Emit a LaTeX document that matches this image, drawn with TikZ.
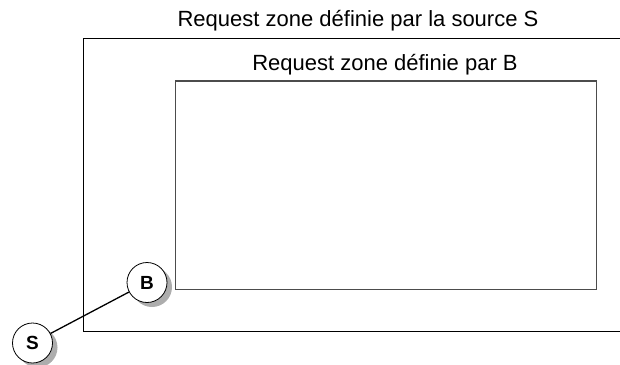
\documentclass[tikz,border=0pt]{standalone}
\usepackage{fontspec}
\setmainfont{Liberation Sans}
\usepackage{tikz}
\usetikzlibrary{positioning,shadows}

\newcommand{\stationfont}{\fontsize{19}{22}\selectfont\bfseries}

\begin{document}
\begin{tikzpicture}[
    x=1pt, y=-1pt,
    zonelabel/.style={
        anchor=base,
        inner sep=0pt,
        font=\fontsize{22}{26}\selectfont
    },
    zone/.style={
        rectangle,
        draw=black!70,
        line width=1.1pt,
        inner sep=0pt,
        minimum width=421pt,
        minimum height=208.5pt
    },
    station/.style={
        circle,
        draw,
        fill=white,
        line width=0.8pt,
        minimum size=40pt,
        inner sep=0pt,
        drop shadow={shadow xshift=5pt, shadow yshift=-4.5pt, fill=black!32, opacity=1}
    }
]
\useasboundingbox (0,0) rectangle (620,364);

% Outer zone (source S)
\draw[line width=0.9pt] (620,38.5) -- (83,38.5) -- (83,331.5) -- (620,331.5);
\node[zonelabel] (labelS) at (358,26) {Request zone définie par la source S};

% Inner zone (B)
\node[zone] (zoneB) at (386,185.25) {};
\node[zonelabel] (labelB) at (385,70) {Request zone définie par B};

% Stations
\node[station] (B) at (147,282.5) {\stationfont B};
\node[station] (S) at (32.5,343) {\stationfont S};

% Link
\draw[line width=1.3pt] (S) -- (B);

\end{tikzpicture}
\end{document}
